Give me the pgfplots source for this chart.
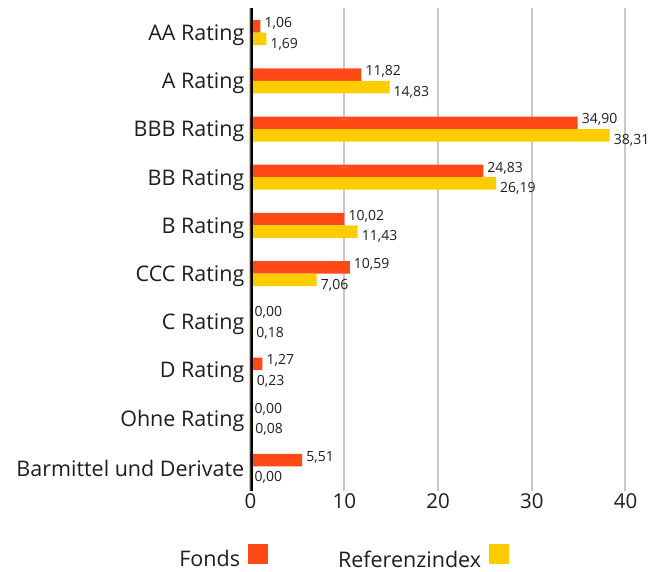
\documentclass[border=0pt]{standalone}
\usepackage{pgfplots}
\pgfplotsset{compat=1.18}
\usepackage{fontspec}
\setmainfont{Open Sans}
\definecolor{fonds}{HTML}{FF4A17}
\definecolor{refc}{HTML}{FFCC00}
\definecolor{gridc}{HTML}{C8C8C8}
\definecolor{txt}{HTML}{1E1E1E}
\begin{document}
\begin{tikzpicture}
\useasboundingbox (-250.5bp,-81.5bp) rectangle (413.5bp,490.5bp);
\begin{axis}[
  at={(0,0)}, anchor=south west,
  scale only axis,
  width=393.75bp, height=482bp,
  xmin=0, xmax=42,
  ymin=-0.5, ymax=9.5,
  y dir=reverse,
  xbar, bar width=12.5bp,
  axis x line*=bottom, axis y line*=left,
  x axis line style={draw=none},
  y axis line style={draw=none},
  major tick length=0pt,
  xtick={0,10,20,30,40},
  xmajorgrids, grid style={gridc, line width=2bp},
  ytick={0,...,9},
  yticklabels={AA Rating, A Rating, BBB Rating, BB Rating, B Rating, CCC Rating, C Rating, D Rating, Ohne Rating, Barmittel und Derivate},
  yticklabel style={font=\fontsize{21.5bp}{24bp}\selectfont, color=txt, inner sep=0pt, xshift=-6bp, yshift=-2.5bp},
  xticklabel style={font=\fontsize{20.5bp}{24bp}\selectfont, color=txt},
  /pgf/number format/assume math mode=true,
  nodes near coords,
  nodes near coords align=horizontal,
  nodes near coords={\pgfmathprintnumber[fixed, fixed zerofill, precision=2, use comma, assume math mode=true]{\pgfplotspointmeta}},
  every node near coord/.append style={font=\fontsize{14bp}{16bp}\selectfont, color=txt, anchor=west, inner sep=1bp, xshift=3bp},
  legend columns=2,
  legend plot pos=right,
  legend style={draw=none, fill=none, at={(rel axis cs:0.2354,-0.138)}, anchor=center,
    font=\fontsize{21.5bp}{24bp}\selectfont, text=txt, nodes={inner sep=2bp},
    /tikz/every odd column/.append style={column sep=6bp},
    /tikz/every even column/.append style={column sep=68bp}},
]
\addplot[draw=none, fill=fonds, bar shift=6.25bp,
  every node near coord/.append style={yshift=3bp},
  legend image code/.code={\fill[fonds] (0bp,-4bp) rectangle (20bp,16bp);}]
  coordinates {(1.06,0) (11.82,1) (34.90,2) (24.83,3) (10.02,4) (10.59,5) (0.00,6) (1.27,7) (0.00,8) (5.51,9)};
\addlegendentry{Fonds}
\addplot[draw=none, fill=refc, bar shift=-6.25bp,
  every node near coord/.append style={yshift=-5bp},
  legend image code/.code={\fill[refc] (0bp,-4bp) rectangle (20bp,16bp);}]
  coordinates {(1.69,0) (14.83,1) (38.31,2) (26.19,3) (11.43,4) (7.06,5) (0.18,6) (0.23,7) (0.08,8) (0.00,9)};
\addlegendentry{Referenzindex}
\draw[black, line width=5bp] (axis cs:0,-0.53) -- (axis cs:0,9.53);
\end{axis}
\end{tikzpicture}
\end{document}
